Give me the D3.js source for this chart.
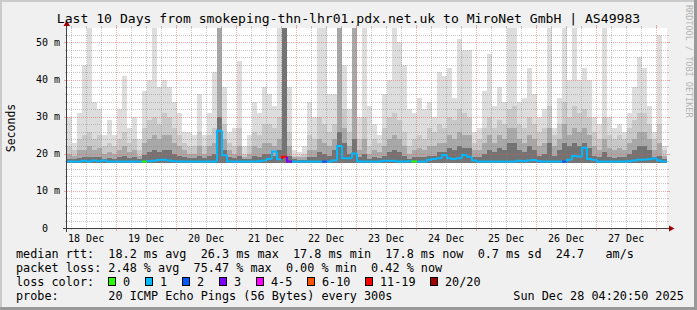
<!DOCTYPE html>
<html>
<head>
<meta charset="utf-8">
<script src="https://cdn.jsdelivr.net/npm/d3@7"></script>
<style>
html, body { margin: 0; padding: 0; background: #f0f0f0; }
svg { display: block; }
text { font-family: "DejaVu Sans Mono", monospace; fill: #000; }
</style>
</head>
<body>
<svg id="chart" width="697" height="310"></svg>
<script>
// time span of the graph (10 days, 2h columns)
var startTime = Date.UTC(2025, 11, 18, 4, 20, 50);
var endTime = Date.UTC(2025, 11, 28, 4, 20, 50);
var stepMs = 2 * 3600 * 1000;

// smoke: highest ping per column, then inner ping levels (ms)
var pingMax = [
    30, 23, 31, 44, 54, 34, 32, 25, 29, 25,
    32, 41, 27, 30, 24, 37, 40, 54, 38, 40,
    38, 34, 31, 26, 26, 25, 36, 25, 31, 42,
    54, 38, 26, 27, 45, 22, 25, 34, 31, 38,
    36, 33, 54, 54, 38, 21, 20.5, 22, 34, 30,
    54, 54, 36, 36, 54, 44, 32, 54, 30, 54,
    33, 28, 25, 36, 40, 54, 50, 44, 32, 31,
    35, 32, 34, 30, 42, 41, 43, 35, 51, 48,
    48, 26, 27, 37, 47, 33, 38, 34, 54, 54,
    34, 35, 43, 36, 30, 32, 54, 27, 35, 54,
    40, 54, 40, 43, 40, 30, 28, 54, 30, 27,
    28, 26, 31, 38, 46, 43, 33, 26, 52, 22
];
var pingHi = [
    22, 21, 24, 25, 26, 24, 25, 22, 23, 22,
    24, 26, 23, 24, 21, 27, 29, 30, 28, 31,
    30, 27, 25, 23, 22, 22, 26, 22, 25, 27,
    54, 28, 23, 22, 27, 20, 22, 26, 25, 28,
    28, 27, 30, 54, 26, 19.5, 19.5, 20, 25, 24,
    30, 28, 26, 28, 54, 32, 26, 54, 24, 30,
    22, 24, 23, 27, 30, 31, 29, 26, 22, 24,
    25, 24, 27, 26, 28, 27, 30, 29, 32, 31,
    30, 23, 24, 27, 30, 27, 29, 28, 32, 33,
    28, 27, 30, 28, 26, 27, 33, 25, 28, 34,
    30, 33, 31, 32, 30, 26, 24, 30, 25, 24,
    25, 24, 27, 29, 31, 31, 28, 24, 28, 21
];
var pingMid = [
    20, 19.5, 21, 21, 22, 21, 21.5, 20, 20.5, 20,
    21, 22, 20.5, 21, 19.5, 23, 24, 25, 24, 25,
    25, 23, 22, 21, 20, 20, 22, 20, 22, 23,
    54, 24, 21, 20, 22, 19, 20, 22, 21.5, 23,
    23, 22, 24, 54, 22, 19, 19, 19, 21, 21,
    24, 23, 22, 24, 54, 27, 22, 54, 21, 24,
    20, 21, 20.5, 22, 24, 25, 24, 22, 20, 21,
    21.5, 21, 22, 22, 23, 23, 25, 24, 26, 25,
    25, 21, 21, 23, 25, 23, 25, 24, 27, 27,
    24, 23, 25, 24, 22, 23, 27, 22, 24, 28,
    25, 27, 26, 27, 25, 22, 21, 24, 21.5, 21,
    21.5, 21, 23, 24, 26, 26, 24, 21, 23, 19.5
];
var pingLow = [
    18.6, 18.5, 18.8, 19, 19.2, 19, 19, 18.7, 18.8, 18.7,
    19, 19.3, 18.8, 19, 18.6, 19.8, 20.5, 21, 20.5, 21,
    21, 20, 19.5, 19, 18.8, 18.8, 19.5, 18.8, 19.5, 20,
    30, 21, 19, 18.8, 19.5, 18.5, 18.7, 19.5, 19.2, 20,
    20, 19.5, 21, 54, 19.5, 18.5, 18.4, 18.4, 19, 19,
    20.5, 20, 19.5, 21, 26, 23, 20, 24, 19, 20,
    18.7, 19, 18.8, 19.5, 20.5, 21, 20.5, 19.5, 18.7, 19,
    19.2, 19, 19.5, 19.5, 20.5, 20.5, 21.5, 21, 22, 21.5,
    21.5, 19, 19, 20, 21, 20.5, 21.5, 21, 23, 23,
    21, 20.5, 22, 21, 19.5, 20, 23, 19.5, 21, 23,
    22, 23, 22, 23, 21.5, 19.5, 19, 20.5, 19, 18.8,
    19, 19, 20, 21, 22, 22, 21, 19, 19.5, 18.5
];
// median rtt per column (ms)
var medianRtt = [
    17.9, 17.9, 17.9, 18.1, 17.9, 18.2, 18.0, 18.2, 17.9, 17.9,
    17.9, 17.9, 17.9, 17.9, 17.9, 17.9, 18.0, 18.1, 18.3, 18.4,
    18.2, 18.0, 17.9, 17.9, 17.9, 17.9, 17.9, 17.9, 17.9, 17.9,
    26.2, 19.6, 17.9, 17.9, 17.9, 17.9, 17.9, 17.9, 18.0, 18.2,
    18.6, 20.6, 18.5, 19.2, 17.9, 17.9, 17.9, 17.9, 17.9, 17.9,
    17.9, 17.9, 17.9, 18.2, 22.1, 18.8, 18.8, 20.1, 17.9, 17.9,
    17.9, 17.9, 17.9, 18.1, 18.1, 18.1, 17.9, 17.9, 18.0, 17.9,
    17.9, 17.9, 18.4, 18.6, 18.8, 19.7, 18.8, 18.6, 18.8, 19.7,
    19.2, 18.2, 17.9, 17.9, 17.9, 17.9, 17.9, 17.9, 17.9, 17.9,
    18.1, 18.0, 18.2, 18.3, 18.0, 17.9, 17.9, 17.9, 17.9, 17.9,
    18.4, 19.4, 19.3, 21.6, 18.6, 18.4, 17.9, 17.9, 17.9, 17.9,
    17.9, 17.9, 18.0, 18.2, 18.4, 18.4, 18.5, 18.7, 18.2, 17.9
];
// lost pings (of 20) per column
var lostPings = [
    1, 1, 1, 1, 1, 1, 1, 1, 1, 1,
    1, 1, 1, 1, 1, 0, 1, 1, 1, 1,
    1, 1, 1, 1, 1, 1, 1, 1, 1, 1,
    1, 1, 1, 1, 1, 1, 1, 1, 1, 1,
    1, 1, 1, 15, 3, 1, 1, 1, 1, 1,
    1, 2, 1, 1, 1, 1, 1, 1, 1, 1,
    1, 1, 1, 1, 1, 1, 1, 1, 1, 0,
    1, 1, 1, 1, 1, 1, 1, 1, 1, 1,
    1, 1, 1, 1, 1, 1, 1, 1, 1, 1,
    1, 1, 1, 1, 1, 1, 1, 1, 1, 2,
    1, 1, 1, 1, 1, 1, 1, 1, 1, 1,
    1, 1, 1, 1, 1, 1, 1, 1, 1, 1
];

var lossLabels = ['0', '1', '2', '3', '4-5', '6-10', '11-19', '20/20'];
var lossColors = ['#26ff00', '#00b8ff', '#0059ff', '#7e00ff', '#ff00ff', '#ff5500', '#ff0000', '#a10000'];
var lossLimits = [1, 2, 3, 4, 6, 11, 20];
var lossBoxX = [108.5, 145.5, 182.5, 219.5, 256.5, 307.5, 365.5, 430.5];

var yMajorTicks = [0, 10, 20, 30, 40, 50];

var legendLines = [
    'median rtt:  18.2 ms avg  26.3 ms max  17.8 ms min  17.8 ms now  0.7 ms sd  24.7   am/s',
    'packet loss: 2.48 % avg  75.47 % max  0.00 % min  0.42 % now',
    'loss color:',
    'probe:       20 ICMP Echo Pings (56 Bytes) every 300s'
];
var titleText = 'Last 10 Days from smokeping-thn-lhr01.pdx.net.uk to MiroNet GmbH | AS49983';
var stampText = 'Sun Dec 28 04:20:50 2025';

var smokeFloor = 17.6;

var svg = d3.select('#chart');
var W = 697, H = 310;
var x0 = 67, x1 = 667, yTop = 28, yBase = 228;

var x = d3.scaleUtc().domain([startTime, endTime]).range([x0, x1]);
var y = d3.scaleLinear().domain([0, 53.9]).range([yBase, yTop]).clamp(true);
var lossColor = d3.scaleThreshold().domain(lossLimits).range(lossColors);

// background and 3d frame
svg.append('rect').attr('width', W).attr('height', H).attr('fill', '#f0f0f0');
svg.append('path').attr('d', 'M0,0H' + W + 'V2H2V' + H + 'H0Z').attr('fill', '#cbcbcb');
svg.append('path').attr('d', 'M' + W + ',0V' + H + 'H0V' + (H - 3) + 'H' + (W - 3) + 'V0Z').attr('fill', '#999999');

// canvas
svg.append('rect').attr('x', x0).attr('y', yTop).attr('width', x1 - x0).attr('height', yBase - yTop).attr('fill', '#fff');

// smoke bands, outermost first
var cols = d3.range(pingMax.length + 1).map(function(k) {
    return Math.min(k, pingMax.length - 1);
});
var bands = [
    {vals: pingMax, color: '#dddddd'},
    {vals: pingHi, color: '#c8c8c8'},
    {vals: pingMid, color: '#a8a8a8'},
    {vals: pingLow, color: '#737373'}
];
var smoke = svg.append('g').attr('shape-rendering', 'crispEdges');
bands.forEach(function(band) {
    var area = d3.area()
        .curve(d3.curveStepAfter)
        .x(function(d, i) { return x(startTime + i * stepMs); })
        .y0(y(smokeFloor))
        .y1(function(d) { return y(band.vals[d]); });
    smoke.append('path').attr('d', area(cols)).attr('fill', band.color);
});

// grid
var grid = svg.append('g').attr('shape-rendering', 'crispEdges');
var px = function(v) { return Math.round(v) + 0.5; };
var dayTicks = d3.utcDay.range(startTime, endTime);
var sixHourTicks = d3.utcHour.every(6).range(startTime, endTime).filter(function(t) {
    return t.getUTCHours() !== 0;
});
var minorVals = d3.range(2, 54, 2).filter(function(v) { return v % 10 !== 0; });
var majorVals = yMajorTicks.filter(function(v) { return v > 0; });

var minorStyle = {stroke: 'rgba(130,130,130,0.45)', dash: '1,1'};
var majorStyle = {stroke: 'rgba(240,90,90,0.5)', dash: '1,1'};

function vLine(t, style, tick) {
    var xx = px(x(t));
    grid.append('line').attr('x1', xx).attr('x2', xx).attr('y1', yTop).attr('y2', yBase)
        .attr('stroke', style.stroke).attr('stroke-dasharray', style.dash);
    grid.append('line').attr('x1', xx).attr('x2', xx).attr('y1', yBase).attr('y2', yBase + tick)
        .attr('stroke', style.stroke);
    grid.append('line').attr('x1', xx).attr('x2', xx).attr('y1', yTop - tick).attr('y2', yTop)
        .attr('stroke', style.stroke);
}
function hLine(v, style, tick) {
    var yy = px(y(v));
    grid.append('line').attr('x1', x0).attr('x2', x1).attr('y1', yy).attr('y2', yy)
        .attr('stroke', style.stroke).attr('stroke-dasharray', style.dash);
    grid.append('line').attr('x1', x0 - tick).attr('x2', x0).attr('y1', yy).attr('y2', yy)
        .attr('stroke', style.stroke);
    grid.append('line').attr('x1', x1).attr('x2', x1 + tick).attr('y1', yy).attr('y2', yy)
        .attr('stroke', style.stroke);
}
sixHourTicks.forEach(function(t) { vLine(t, minorStyle, 2); });
dayTicks.forEach(function(t) { vLine(t, majorStyle, 3); });
minorVals.forEach(function(v) { hLine(v, minorStyle, 2); });
majorVals.forEach(function(v) { hLine(v, majorStyle, 3); });

// median line, coloured by loss
var medianG = svg.append('g');
var seg = d3.line();
medianRtt.forEach(function(m, k) {
    var xa = x(startTime + k * stepMs), xb = x(startTime + (k + 1) * stepMs);
    var prev = k > 0 ? medianRtt[k - 1] : m;
    medianG.append('path')
        .attr('d', seg([[xa, y(prev)], [xa, y(m)], [xb, y(m)]]))
        .attr('fill', 'none')
        .attr('stroke', lossColor(lostPings[k]))
        .attr('stroke-width', 2);
});

// axes with arrows
svg.append('line').attr('x1', 66.5).attr('x2', 66.5).attr('y1', yBase + 4).attr('y2', 24)
    .attr('stroke', '#404040');
svg.append('line').attr('x1', 63).attr('x2', x1 + 4).attr('y1', yBase + 0.5).attr('y2', yBase + 0.5)
    .attr('stroke', '#404040');
svg.append('path').attr('d', 'M63.5,26L70,26L66.75,20.5Z').attr('fill', '#a00000');
svg.append('path').attr('d', 'M669,225.5L669,231.5L674.5,228.5Z').attr('fill', '#a00000');

// y tick labels
var yLab = svg.append('g').attr('font-size', '10px');
yMajorTicks.forEach(function(v) {
    yLab.append('text').attr('x', 48).attr('y', y(v)).attr('dy', '0.35em')
        .attr('text-anchor', 'end').text(v);
    if (v > 0) {
        yLab.append('text').attr('x', 54).attr('y', y(v)).attr('dy', '0.35em').text('m');
    }
});

// x tick labels, centred at noon
var xLab = svg.append('g').attr('font-size', '10px');
var dayFmt = d3.utcFormat('%d %b');
d3.utcDay.range(d3.utcDay.floor(new Date(startTime)), endTime).forEach(function(d) {
    var noon = d3.utcHour.offset(d, 12);
    if (noon < startTime || noon > endTime) return;
    xLab.append('text').attr('x', x(noon)).attr('y', 242).attr('text-anchor', 'middle').text(dayFmt(noon));
});

// title, y title, watermark
svg.append('text').attr('x', 348.5).attr('y', 22.5).attr('text-anchor', 'middle')
    .attr('font-size', '13.1px').text(titleText);
svg.append('text').attr('transform', 'translate(14.5,128) rotate(-90)').attr('text-anchor', 'middle')
    .attr('font-size', '11.5px').text('Seconds');
svg.append('text').attr('transform', 'translate(686,5) rotate(90)')
    .attr('font-size', '8.5px').style('fill', '#b4b4b4').text('RRDTOOL / TOBI OETIKER');

// legend
var legend = svg.append('g').attr('font-size', '11.8px');
var lineY = [257.5, 271.5, 285.5, 299.5];
legendLines.forEach(function(s, i) {
    legend.append('text').attr('x', 16).attr('y', lineY[i]).attr('xml:space', 'preserve').text(s);
});
lossLabels.forEach(function(lbl, i) {
    legend.append('rect').attr('x', lossBoxX[i]).attr('y', 277.5).attr('width', 7).attr('height', 8)
        .attr('fill', lossColors[i]).attr('stroke', '#000').attr('stroke-width', 1);
    legend.append('text').attr('x', lossBoxX[i] + 14.5).attr('y', lineY[2]).text(lbl);
});
legend.append('text').attr('x', 513.3).attr('y', lineY[3]).text(stampText);
</script>
</body>
</html>
